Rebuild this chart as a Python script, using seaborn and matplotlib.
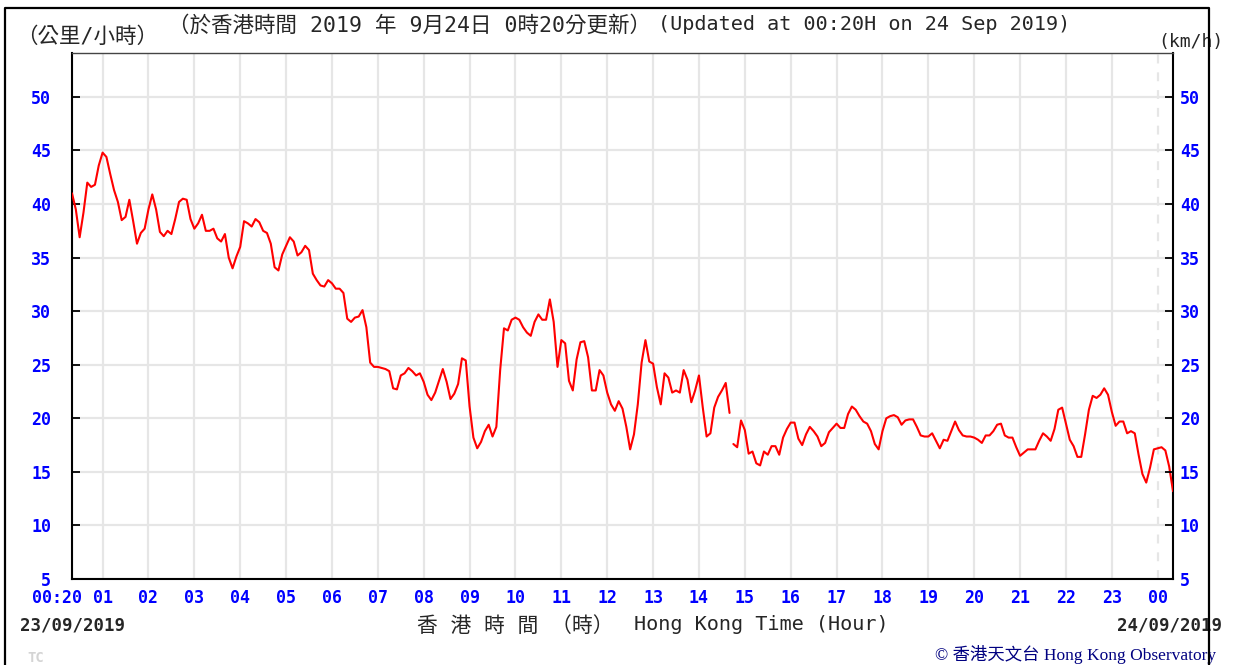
import numpy as np
import pandas as pd
import matplotlib
matplotlib.use('Agg')
import matplotlib.pyplot as plt
import seaborn as sns
from matplotlib.lines import Line2D
from matplotlib.transforms import ScaledTranslation


# minutes after 00:20 on 23/09/2019, one reading every 5 minutes
minutes = np.arange(0, 1441, 5)

# wind speed (km/h)
speed = [
    41.0, 39.5, 36.9, 39.2, 42.0, 41.6, 41.8, 43.6, 44.8, 44.4, 42.8, 41.3,
    40.2, 38.5, 38.8, 40.4, 38.4, 36.3, 37.3, 37.7, 39.5, 40.9, 39.5, 37.4,
    37.0, 37.5, 37.2, 38.6, 40.2, 40.5, 40.4, 38.6, 37.7, 38.2, 39.0, 37.5,
    37.5, 37.7, 36.8, 36.5, 37.2, 35.0, 34.0, 35.1, 36.0, 38.4, 38.2, 37.9,
    38.6, 38.3, 37.5, 37.3, 36.3, 34.1, 33.8, 35.3, 36.1, 36.9, 36.5, 35.2,
    35.5, 36.1, 35.7, 33.5, 32.9, 32.4, 32.3, 32.9, 32.6, 32.1, 32.1, 31.7,
    29.3, 29.0, 29.4, 29.5, 30.1, 28.5, 25.2, 24.8, 24.8, 24.7, 24.6, 24.4,
    22.8, 22.7, 24.0, 24.2, 24.7, 24.4, 24.0, 24.2, 23.4, 22.2, 21.7, 22.4,
    23.5, 24.6, 23.4, 21.8, 22.3, 23.2, 25.6, 25.4, 21.1, 18.2, 17.2, 17.8,
    18.8, 19.4, 18.3, 19.2, 24.5, 28.4, 28.2, 29.2, 29.4, 29.2, 28.5, 28.0,
    27.7, 29.0, 29.7, 29.2, 29.2, 31.1, 29.0, 24.8, 27.3, 27.0, 23.5, 22.6,
    25.5, 27.1, 27.2, 25.7, 22.6, 22.6, 24.5, 24.0, 22.4, 21.3, 20.7, 21.6,
    20.9, 19.2, 17.1, 18.5, 21.3, 25.2, 27.3, 25.3, 25.1, 22.9, 21.3, 24.2,
    23.8, 22.4, 22.6, 22.4, 24.5, 23.6, 21.5, 22.6, 24.0, 21.0, 18.3, 18.6,
    21.0, 22.0, 22.6, 23.3, 20.5, 17.6, 17.3, 19.8, 18.9, 16.7, 16.9, 15.8,
    15.6, 16.9, 16.6, 17.4, 17.4, 16.6, 18.2, 19.0, 19.6, 19.6, 18.1, 17.5,
    18.5, 19.2, 18.8, 18.3, 17.4, 17.7, 18.7, 19.1, 19.5, 19.1, 19.1, 20.4,
    21.1, 20.8, 20.2, 19.7, 19.5, 18.8, 17.6, 17.1, 18.8, 20.0, 20.2, 20.3,
    20.1, 19.4, 19.8, 19.9, 19.9, 19.2, 18.4, 18.3, 18.3, 18.6, 17.9, 17.2,
    18.0, 17.9, 18.8, 19.7, 18.9, 18.4, 18.3, 18.3, 18.2, 18.0, 17.7, 18.4,
    18.4, 18.8, 19.4, 19.5, 18.4, 18.2, 18.2, 17.3, 16.5, 16.8, 17.1, 17.1,
    17.1, 17.9, 18.6, 18.3, 17.9, 19.0, 20.8, 21.0, 19.5, 18.0, 17.4, 16.4,
    16.4, 18.5, 20.8, 22.1, 21.9, 22.2, 22.8, 22.2, 20.6, 19.3, 19.7, 19.7,
    18.6, 18.8, 18.6, 16.6, 14.8, 14.0, 15.4, 17.1, 17.2, 17.3, 17.0, 15.5,
    13.2,
]

# the record has a short break here
gap_minute = 862

hour_ticks = [0] + list(range(40, 1441, 60))
hour_labels = ['00:20'] + ['%02d' % h for h in range(1, 24)] + ['00']
speed_ticks = list(range(5, 55, 5))

df = pd.DataFrame({'minute': minutes, 'speed': speed})
df['seg'] = (df['minute'] > gap_minute).astype(int)

sns.set_style('white')
plt.rcParams['font.family'] = ['DejaVu Sans Mono', 'Noto Sans CJK TC']

W, H = 1236, 665
fig = plt.figure(figsize=(W / 100, H / 100), dpi=100)
ax = fig.add_axes([72 / W, 1 - 579 / H, (1173 - 72) / W, (579 - 53) / H])

sns.lineplot(data=df, x='minute', y='speed', units='seg', estimator=None,
             color='#ff0000', linewidth=1.5, ax=ax, zorder=3)

ax.set_xlim(0, 1440)
ax.set_ylim(5, 54.1)
ax.set_xticks(hour_ticks, hour_labels)
ax.set_yticks(speed_ticks)
ax.set_xlabel('')
ax.set_ylabel('')
ax.grid(True, color='#e6e6e6', linewidth=1.6, zorder=0)
ax.xaxis.get_gridlines()[-1].set_linestyle((0, (4, 4)))

blue = '#0000ff'
ax.tick_params(axis='both', direction='in', length=6, width=1.3, color='black',
               labelcolor=blue, labelsize=12)
ax.tick_params(axis='x', pad=7)
ax.tick_params(axis='y', pad=15)
for lab in ax.get_xticklabels() + ax.get_yticklabels():
    lab.set_fontweight('bold')

# first hour label sits left of the axis start
first = ax.get_xticklabels()[0]
first.set_transform(first.get_transform() + ScaledTranslation(-0.15, 0, fig.dpi_scale_trans))

for side in ['left', 'bottom', 'right']:
    ax.spines[side].set_color('black')
    ax.spines[side].set_linewidth(1.5)
ax.spines['top'].set_color('#444444')
ax.spines['top'].set_linewidth(1.0)

ax2 = ax.twinx()
ax2.set_ylim(ax.get_ylim())
ax2.set_yticks(speed_ticks)
ax2.tick_params(axis='y', direction='in', length=6, width=1.3, color='black',
                labelcolor=blue, labelsize=12, pad=5)
for lab in ax2.get_yticklabels():
    lab.set_fontweight('bold')
ax2.grid(False)
for s in ax2.spines.values():
    s.set_visible(False)


def px(x, y):
    return x / W, 1 - y / H


fig.text(*px(16, 37), '（公里/小時）', fontsize=15.5, va='center', ha='left')
fig.text(*px(168, 25), '（於香港時間 2019 年 9月24日 0時20分更新）',
         fontsize=15.5, va='center', ha='left')
fig.text(*px(658, 25), '(Updated at 00:20H on 24 Sep 2019)',
         fontsize=14.5, va='center', ha='left')
fig.text(*px(1158, 42), '(km/h)', fontsize=13, va='center', ha='left')

fig.text(*px(20, 626), '23/09/2019', fontsize=12.5, fontweight='bold', va='center', ha='left')
fig.text(*px(1222, 626), '24/09/2019', fontsize=12.5, fontweight='bold', va='center', ha='right')
fig.text(*px(417, 626), '香 港 時 間 （時）', fontsize=15, va='center', ha='left')
fig.text(*px(634, 625), 'Hong Kong Time (Hour)', fontsize=14.5, va='center', ha='left')

fig.text(*px(27, 658), 'TC', fontsize=10, fontweight='bold', color='#d4d4d4', va='center', ha='left')
fig.text(*px(935, 655), '© 香港天文台 Hong Kong Observatory', fontsize=12.5, color='#000080',
         family=['Liberation Serif', 'Noto Sans CJK TC'], va='center', ha='left')

# outer frame, open at the bottom
frame = Line2D([5 / W, 5 / W, 1209 / W, 1209 / W], [0, 1 - 8 / H, 1 - 8 / H, 0],
               transform=fig.transFigure, color='black', linewidth=1.6, zorder=10)
fig.add_artist(frame)

fig.savefig('out.png', dpi=100)
